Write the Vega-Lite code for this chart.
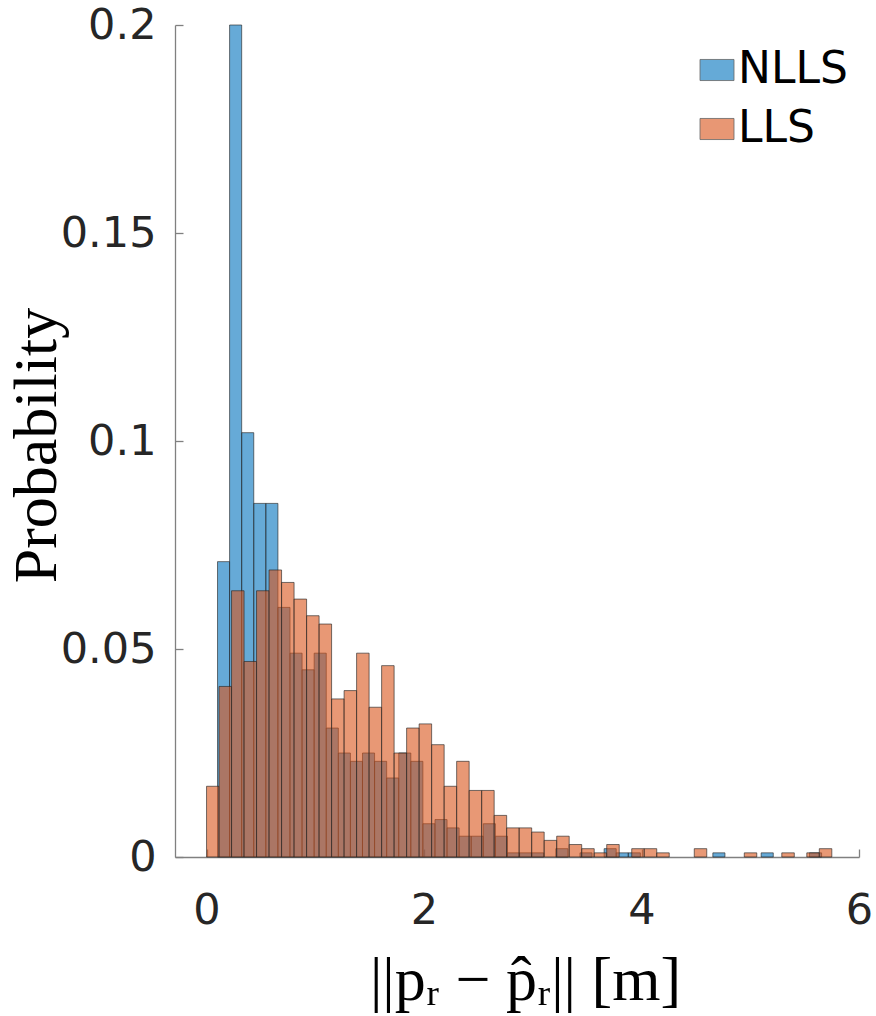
{
  "$schema": "https://vega.github.io/schema/vega-lite/v6.json",
  "width": 684,
  "height": 832,
  "autosize": {"type": "none"},
  "padding": {"left": 175, "top": 25, "right": 17, "bottom": 159},
  "background": "white",
  "config": {"view": {"stroke": null}},
  "data": {
    "values": [
      {"series": "NLLS", "x0": 0.1010, "x1": 0.2121, "p": 0.071},
      {"series": "NLLS", "x0": 0.2121, "x1": 0.3232, "p": 0.200},
      {"series": "NLLS", "x0": 0.3232, "x1": 0.4343, "p": 0.102},
      {"series": "NLLS", "x0": 0.4343, "x1": 0.5454, "p": 0.085},
      {"series": "NLLS", "x0": 0.5454, "x1": 0.6565, "p": 0.085},
      {"series": "NLLS", "x0": 0.6565, "x1": 0.7676, "p": 0.060},
      {"series": "NLLS", "x0": 0.7676, "x1": 0.8787, "p": 0.049},
      {"series": "NLLS", "x0": 0.8787, "x1": 0.9898, "p": 0.045},
      {"series": "NLLS", "x0": 0.9898, "x1": 1.1009, "p": 0.049},
      {"series": "NLLS", "x0": 1.1009, "x1": 1.2120, "p": 0.031},
      {"series": "NLLS", "x0": 1.2120, "x1": 1.3231, "p": 0.025},
      {"series": "NLLS", "x0": 1.3231, "x1": 1.4342, "p": 0.023},
      {"series": "NLLS", "x0": 1.4342, "x1": 1.5453, "p": 0.025},
      {"series": "NLLS", "x0": 1.5453, "x1": 1.6564, "p": 0.023},
      {"series": "NLLS", "x0": 1.6564, "x1": 1.7675, "p": 0.019},
      {"series": "NLLS", "x0": 1.7675, "x1": 1.8786, "p": 0.025},
      {"series": "NLLS", "x0": 1.8786, "x1": 1.9897, "p": 0.023},
      {"series": "NLLS", "x0": 1.9897, "x1": 2.1008, "p": 0.008},
      {"series": "NLLS", "x0": 2.1008, "x1": 2.2119, "p": 0.009},
      {"series": "NLLS", "x0": 2.2119, "x1": 2.3230, "p": 0.007},
      {"series": "NLLS", "x0": 2.3230, "x1": 2.4341, "p": 0.005},
      {"series": "NLLS", "x0": 2.4341, "x1": 2.5452, "p": 0.005},
      {"series": "NLLS", "x0": 2.5452, "x1": 2.6563, "p": 0.008},
      {"series": "NLLS", "x0": 2.6563, "x1": 2.7674, "p": 0.005},
      {"series": "NLLS", "x0": 2.7674, "x1": 2.8785, "p": 0.001},
      {"series": "NLLS", "x0": 2.8785, "x1": 2.9896, "p": 0.001},
      {"series": "NLLS", "x0": 2.9896, "x1": 3.1007, "p": 0.001},
      {"series": "NLLS", "x0": 3.2118, "x1": 3.3229, "p": 0.002},
      {"series": "NLLS", "x0": 3.4340, "x1": 3.5451, "p": 0.001},
      {"series": "NLLS", "x0": 3.6562, "x1": 3.7673, "p": 0.002},
      {"series": "NLLS", "x0": 3.7673, "x1": 3.8784, "p": 0.001},
      {"series": "NLLS", "x0": 3.8784, "x1": 3.9895, "p": 0.001},
      {"series": "NLLS", "x0": 4.6561, "x1": 4.7672, "p": 0.001},
      {"series": "NLLS", "x0": 5.1005, "x1": 5.2116, "p": 0.001},
      {"series": "NLLS", "x0": 5.5449, "x1": 5.6560, "p": 0.001},
      {"series": "LLS", "x0": 0.000, "x1": 0.115, "p": 0.017},
      {"series": "LLS", "x0": 0.115, "x1": 0.230, "p": 0.041},
      {"series": "LLS", "x0": 0.230, "x1": 0.345, "p": 0.064},
      {"series": "LLS", "x0": 0.345, "x1": 0.460, "p": 0.047},
      {"series": "LLS", "x0": 0.460, "x1": 0.575, "p": 0.064},
      {"series": "LLS", "x0": 0.575, "x1": 0.690, "p": 0.069},
      {"series": "LLS", "x0": 0.690, "x1": 0.805, "p": 0.066},
      {"series": "LLS", "x0": 0.805, "x1": 0.920, "p": 0.062},
      {"series": "LLS", "x0": 0.920, "x1": 1.035, "p": 0.058},
      {"series": "LLS", "x0": 1.035, "x1": 1.150, "p": 0.056},
      {"series": "LLS", "x0": 1.150, "x1": 1.265, "p": 0.038},
      {"series": "LLS", "x0": 1.265, "x1": 1.380, "p": 0.040},
      {"series": "LLS", "x0": 1.380, "x1": 1.495, "p": 0.049},
      {"series": "LLS", "x0": 1.495, "x1": 1.610, "p": 0.036},
      {"series": "LLS", "x0": 1.610, "x1": 1.725, "p": 0.046},
      {"series": "LLS", "x0": 1.725, "x1": 1.840, "p": 0.025},
      {"series": "LLS", "x0": 1.840, "x1": 1.955, "p": 0.031},
      {"series": "LLS", "x0": 1.955, "x1": 2.070, "p": 0.032},
      {"series": "LLS", "x0": 2.070, "x1": 2.185, "p": 0.027},
      {"series": "LLS", "x0": 2.185, "x1": 2.300, "p": 0.017},
      {"series": "LLS", "x0": 2.300, "x1": 2.415, "p": 0.023},
      {"series": "LLS", "x0": 2.415, "x1": 2.530, "p": 0.016},
      {"series": "LLS", "x0": 2.530, "x1": 2.645, "p": 0.016},
      {"series": "LLS", "x0": 2.645, "x1": 2.760, "p": 0.010},
      {"series": "LLS", "x0": 2.760, "x1": 2.875, "p": 0.007},
      {"series": "LLS", "x0": 2.875, "x1": 2.990, "p": 0.007},
      {"series": "LLS", "x0": 2.990, "x1": 3.105, "p": 0.006},
      {"series": "LLS", "x0": 3.105, "x1": 3.220, "p": 0.004},
      {"series": "LLS", "x0": 3.220, "x1": 3.335, "p": 0.005},
      {"series": "LLS", "x0": 3.335, "x1": 3.450, "p": 0.003},
      {"series": "LLS", "x0": 3.450, "x1": 3.565, "p": 0.002},
      {"series": "LLS", "x0": 3.565, "x1": 3.680, "p": 0.001},
      {"series": "LLS", "x0": 3.680, "x1": 3.795, "p": 0.003},
      {"series": "LLS", "x0": 3.910, "x1": 4.025, "p": 0.002},
      {"series": "LLS", "x0": 4.025, "x1": 4.140, "p": 0.002},
      {"series": "LLS", "x0": 4.140, "x1": 4.255, "p": 0.001},
      {"series": "LLS", "x0": 4.485, "x1": 4.600, "p": 0.002},
      {"series": "LLS", "x0": 4.945, "x1": 5.060, "p": 0.001},
      {"series": "LLS", "x0": 5.290, "x1": 5.405, "p": 0.001},
      {"series": "LLS", "x0": 5.520, "x1": 5.635, "p": 0.001},
      {"series": "LLS", "x0": 5.635, "x1": 5.750, "p": 0.002}
    ]
  },
  "mark": {"type": "rect", "fillOpacity": 0.6, "stroke": "#262626", "strokeWidth": 0.8, "strokeOpacity": 0.8},
  "encoding": {
    "x": {
      "field": "x0", "type": "quantitative",
      "scale": {"domain": [-0.29, 6], "nice": false, "zero": false},
      "axis": {
        "title": "||pᵣ − p̂ᵣ|| [m]",
        "values": [0, 2, 4, 6], "format": "d", "grid": false,
        "tickSize": -8, "labelPadding": 74, "labelBaseline": "alphabetic",
        "labelFlush": false, "labelOverlap": false,
        "labelFont": "DejaVu Sans", "labelFontSize": 43, "labelColor": "#262626",
        "domainColor": "#808080", "tickColor": "#808080", "domainWidth": 1.3, "tickWidth": 1.3,
        "titleFont": "Liberation Serif", "titleFontSize": 62, "titleFontWeight": "normal", "titleColor": "#000000",
        "titleX": 350, "titleY": 142, "titleBaseline": "alphabetic", "titleAlign": "center"
      }
    },
    "x2": {"field": "x1"},
    "y": {
      "field": "p", "type": "quantitative",
      "scale": {"domain": [0, 0.2], "nice": false},
      "axis": {
        "title": "Probability",
        "values": [0, 0.05, 0.1, 0.15, 0.2], "format": "~g", "grid": false,
        "tickSize": -8, "labelPadding": 27, "labelBaseline": "middle",
        "labelFlush": false, "labelOverlap": false,
        "labelFont": "DejaVu Sans", "labelFontSize": 43, "labelColor": "#262626",
        "domainColor": "#808080", "tickColor": "#808080", "domainWidth": 1.3, "tickWidth": 1.3,
        "titleFont": "Liberation Serif", "titleFontSize": 62, "titleFontWeight": "normal", "titleColor": "#000000",
        "titleX": -120, "titleY": 420, "titleAngle": 270, "titleBaseline": "alphabetic", "titleAlign": "center"
      }
    },
    "y2": {"datum": 0},
    "color": {
      "field": "series", "type": "nominal",
      "scale": {"domain": ["NLLS", "LLS"], "range": ["#0072BD", "#D95319"]},
      "legend": {
        "title": null, "orient": "none", "legendX": 520, "legendY": 23, "padding": 0,
        "symbolType": "M-1,-0.62H1V0.62H-1Z", "symbolSize": 1156,
        "symbolOpacity": 0.6, "symbolStrokeColor": "#000000", "symbolStrokeWidth": 0.8,
        "labelFont": "DejaVu Sans", "labelFontSize": 44, "labelColor": "#000000",
        "labelOffset": -1, "rowPadding": 15
      }
    }
  }
}
